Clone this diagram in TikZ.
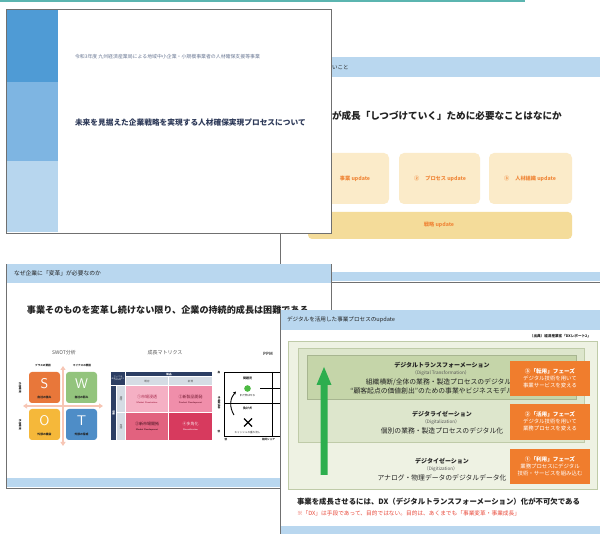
\documentclass[tikz,border=0pt]{standalone}
\usepackage{fontspec}
\newfontfamily\jp{Noto Sans CJK JP}
\usetikzlibrary{arrows.meta}
\definecolor{tealline}{HTML}{5BB5B0}
\definecolor{hdrblue}{HTML}{B9D7EF}
\definecolor{slideedge}{HTML}{707070}
\definecolor{navy}{HTML}{2E3A59}
\definecolor{subgray}{HTML}{6A7894}
\definecolor{stripeA}{HTML}{4F9BD5}
\definecolor{stripeB}{HTML}{7EB5E2}
\definecolor{stripeC}{HTML}{B7D6EE}
\definecolor{orangetxt}{HTML}{F0883A}
\definecolor{cream}{HTML}{FBEBC9}
\definecolor{sand}{HTML}{F4DC9A}
\definecolor{swotS}{HTML}{E8773A}
\definecolor{swotW}{HTML}{93C47D}
\definecolor{swotO}{HTML}{F5B83A}
\definecolor{swotT}{HTML}{4E8DC7}
\definecolor{pinkarrow}{HTML}{F7C6B5}
\definecolor{gmA}{HTML}{F5B0C4}
\definecolor{gmB}{HTML}{F08EAA}
\definecolor{gmC}{HTML}{E2627F}
\definecolor{gmD}{HTML}{D73A5E}
\definecolor{gmnavy}{HTML}{2C3E63}
\definecolor{gmgray}{HTML}{D5DCE4}
\definecolor{gmtxt}{HTML}{A82A4C}
\definecolor{greenA}{HTML}{EEF2E3}
\definecolor{greenB}{HTML}{DDE6CC}
\definecolor{greenC}{HTML}{C5D5A9}
\definecolor{greenEdge}{HTML}{BFCBA8}
\definecolor{arrowgreen}{HTML}{2DAE4E}
\definecolor{phase}{HTML}{F07D2D}
\definecolor{redtxt}{HTML}{E94B3C}
\definecolor{darktxt}{HTML}{222222}
\definecolor{midtxt}{HTML}{555555}
\newcommand\fz[1]{\fontsize{#1}{#1}\selectfont}
\tikzset{
  slidebox/.style={draw=slideedge, line width=0.9pt, fill=white},
  lbl/.style={inner sep=0pt, outer sep=0pt, font=\jp},
  roundbox/.style={fill=cream, rounded corners=5pt},
  phasebox/.style={fill=phase},
  phasetxt/.style={lbl, text=white, align=center},
  dxhead/.style={lbl, font=\jp\bfseries\fz{6}, text=darktxt},
  dxsub/.style={lbl, font=\jp\fz{4.6}, text=midtxt},
  dxbody/.style={lbl, font=\jp\fz{6.8}, text=darktxt},
}
\begin{document}
\begin{tikzpicture}[x=1pt,y=-1pt]
\useasboundingbox (0,0) rectangle (600,534);
\clip (0,0) rectangle (600,534);
\fill[white] (0,0) rectangle (600,534);
\fill[tealline] (0,0) rectangle (525,2.5);

% ---------------- slide 2 ----------------
\draw[slidebox] (280,57) rectangle (640,282);
\fill[hdrblue] (280.5,57.5) rectangle (640,77);
\fill[hdrblue] (280.5,272) rectangle (640,281.5);
\node[lbl, anchor=west, font=\jp\fz{5.5}, text=darktxt] (s2h) at (332,67) {いこと};
\node[lbl, anchor=west, font=\jp\bfseries\fz{9.6}, text=darktxt] (s2t) at (332,116) {が成長「しつづけていく」ために必要なことはなにか};
\fill[roundbox] (308,153) rectangle (389,204);
\fill[roundbox] (399,153) rectangle (480,204);
\fill[roundbox] (489,153) rectangle (572,204);
\fill[sand, rounded corners=4pt] (308,212) rectangle (572,239);
\node[lbl, font=\jp\bfseries\fz{5.2}, text=orangetxt] (u1) at (355,179) {事業 update};
\node[lbl, font=\jp\bfseries\fz{5.2}, text=orangetxt] (u2) at (440,179) {②\hspace{6pt}プロセス update};
\node[lbl, font=\jp\bfseries\fz{5.2}, text=orangetxt] (u3) at (530,179) {③\hspace{6pt}人材組織 update};
\node[lbl, font=\jp\bfseries\fz{5.2}, text=orangetxt] (u4) at (439,225) {戦略 update};

% ---------------- slide 1 ----------------
\draw[slidebox] (6.5,9.5) rectangle (331,233);
\fill[stripeA] (7,10) rectangle (58,82);
\fill[stripeB] (7,82) rectangle (58,161);
\fill[stripeC] (7,161) rectangle (58,232.5);
\node[lbl, anchor=west, font=\jp\fz{4.9}, text=subgray] (s1sub) at (75,57) {令和3年度 九州経済産業局による地域中小企業・小規模事業者の人材確保支援等事業};
\node[lbl, anchor=west, font=\jp\bfseries\fz{7.7}, text=navy] (s1t) at (75,123) {未来を見据えた企業戦略を実現する人材確保実現プロセスについて};

% ---------------- slide 3 ----------------
\draw[slidebox] (6.5,264) rectangle (331,488);
\fill[hdrblue] (7,264.5) rectangle (330.5,283);
\fill[hdrblue] (7,478) rectangle (330.5,487.5);
\node[lbl, anchor=west, font=\jp\fz{5.8}, text=darktxt] (s3h) at (14,273) {なぜ企業に「変革」が必要なのか};
\node[lbl, anchor=west, font=\jp\bfseries\fz{9.1}, text=darktxt] (s3t) at (27,310) {事業そのものを変革し続けない限り、企業の持続的成長は困難である};
\node[lbl, font=\jp\fz{5}, text=midtxt] (swotl) at (64,353) {SWOT分析};
\node[lbl, font=\jp\fz{5}, text=midtxt] (gml) at (165,353) {成長マトリクス};
\node[lbl, font=\jp\bfseries\fz{4.3}, text=midtxt] (ppml) at (268,354) {PPM};
% SWOT
\draw[pinkarrow, line width=1.6pt, {Triangle[length=4pt,width=5pt]}-{Triangle[length=4pt,width=5pt]}] (23,406) -- (103,406);
\draw[pinkarrow, line width=1.6pt, {Triangle[length=4pt,width=5pt]}-{Triangle[length=4pt,width=5pt]}] (63,366) -- (63,446);
\fill[swotS, rounded corners=3pt] (29,372) rectangle (60,403);
\fill[swotW, rounded corners=3pt] (66,372) rectangle (97,403);
\fill[swotO, rounded corners=3pt] (29,409) rectangle (60,440);
\fill[swotT, rounded corners=3pt] (66,409) rectangle (97,440);
\node[lbl, font=\fz{14}\sffamily, text=white] (sS) at (44.5,384) {S};
\node[lbl, font=\fz{14}\sffamily, text=white] (sW) at (81.5,384) {W};
\node[lbl, font=\fz{14}\sffamily, text=white] (sO) at (44.5,421) {O};
\node[lbl, font=\fz{14}\sffamily, text=white] (sT) at (81.5,421) {T};
\node[lbl, font=\jp\bfseries\fz{2.8}, text=darktxt] (sS2) at (44.5,397.5) {自社の強み};
\node[lbl, font=\jp\bfseries\fz{2.8}, text=darktxt] (sW2) at (81.5,397.5) {自社の弱み};
\node[lbl, font=\jp\bfseries\fz{2.8}, text=darktxt] (sO2) at (44.5,434.5) {外部の機会};
\node[lbl, font=\jp\bfseries\fz{2.8}, text=darktxt] (sT2) at (81.5,434.5) {外部の脅威};
\node[lbl, font=\jp\bfseries\fz{2.6}, text=darktxt] (plus) at (43,366) {プラスの要因};
\node[lbl, font=\jp\bfseries\fz{2.6}, text=darktxt] (minus) at (82,366) {マイナスの要因};
\node[lbl, font=\jp\bfseries\fz{2.6}, text=darktxt, rotate=-90] (inner) at (20,388) {内部環境};
\node[lbl, font=\jp\bfseries\fz{2.6}, text=darktxt, rotate=-90] (outer) at (20,425) {外部環境};
% growth matrix
\fill[gmnavy] (111,372) rectangle (125,385);
\fill[gmnavy] (126,372) rectangle (212,376.5);
\fill[gmgray] (126,377.5) rectangle (168,385);
\fill[gmgray] (169,377.5) rectangle (212,385);
\fill[gmnavy] (111,386) rectangle (116,440);
\fill[gmgray] (117,386) rectangle (125,412.5);
\fill[gmgray] (117,413.5) rectangle (125,440);
\fill[gmA] (126,386) rectangle (168,412.5);
\fill[gmB] (169,386) rectangle (212,412.5);
\fill[gmC] (126,413.5) rectangle (168,440);
\fill[gmD] (169,413.5) rectangle (212,440);
\node[lbl, font=\jp\fz{1.8}, text=white, align=center] (gm0) at (118,378.5) {アンゾフの\\成長マトリクス\\(Ansoff)};
\node[lbl, font=\jp\bfseries\fz{2.6}, text=white] (gmh) at (169,374.3) {製品};
\node[lbl, font=\jp\fz{2.6}, text=midtxt] (gmh1) at (147,381.3) {既存};
\node[lbl, font=\jp\fz{2.6}, text=midtxt] (gmh2) at (190.5,381.3) {新規};
\node[lbl, font=\jp\bfseries\fz{2.6}, text=white, rotate=-90] (gmv) at (113.5,413) {市場};
\node[lbl, font=\jp\fz{2.6}, text=midtxt, rotate=-90] (gmv1) at (121,399) {既存};
\node[lbl, font=\jp\fz{2.6}, text=midtxt, rotate=-90] (gmv2) at (121,427) {新規};
\node[lbl, font=\jp\fz{4}, text=gmtxt] (q1) at (147,396.5) {①市場浸透};
\node[lbl, font=\sffamily\bfseries\fz{2.3}, text=gmtxt] (q1e) at (147,402.5) {Market Penetration};
\node[lbl, font=\jp\fz{4}, text=gmtxt!70!black] (q2) at (190.5,396.5) {②新製品開発};
\node[lbl, font=\sffamily\bfseries\fz{2.3}, text=gmtxt!70!black] (q2e) at (190.5,402.5) {Product Development};
\node[lbl, font=\jp\fz{4}, text=gmtxt!40!black] (q3) at (147,424) {③新市場開拓};
\node[lbl, font=\sffamily\bfseries\fz{2.3}, text=gmtxt!40!black] (q3e) at (147,430) {Market Development};
\node[lbl, font=\jp\fz{4}, text=white!85!gmD] (q4) at (190.5,424) {④多角化};
\node[lbl, font=\sffamily\bfseries\fz{2.3}, text=white!85!gmD] (q4e) at (190.5,430) {Diversification};
% PPM
\draw[black, line width=0.7pt] (224,372) rectangle (330,436);
\draw[black, line width=0.7pt] (224,403) -- (330,403);
\draw[black, line width=0.7pt] (272,372) -- (272,436);
\fill[arrowgreen!85!yellow] (247.5,388.5) circle (3.3);
\draw[black, line width=1.1pt] (260,388.5) -- (300,388.5);
\node[lbl, font=\jp\bfseries\fz{3}, text=darktxt] (ppq) at (247.5,378) {問題児};
\node[lbl, font=\jp\fz{2.6}, text=darktxt] (ppq2) at (247.5,396) {まだ伸ばせる};
\node[lbl, font=\jp\bfseries\fz{3}, text=darktxt] (ppd) at (247.5,408) {負け犬};
\node[lbl, font=\jp\fz{2.6}, text=darktxt] (ppd2) at (247.5,433) {キャッシュの垂れ流し};
\draw[black, line width=1.1pt] (244,418.5) -- (252,426.5) (244,426.5) -- (252,418.5);
\draw[black, line width=0.9pt, -{Stealth[length=3pt,width=3pt]}] (234,415) .. controls (229,407) and (230,398) .. (236,391.5);
\node[lbl, font=\jp\bfseries\fz{2.6}, text=darktxt] (pph) at (219,373) {高};
\node[lbl, font=\jp\bfseries\fz{2.6}, text=darktxt] (ppl) at (219,432) {低};
\node[lbl, font=\jp\bfseries\fz{2.6}, text=darktxt, rotate=-90] (ppy) at (219,403) {市場成長率};
\node[lbl, font=\jp\bfseries\fz{2.6}, text=darktxt] (ppx0) at (226,439.5) {低};
\node[lbl, font=\jp\bfseries\fz{2.6}, text=darktxt, anchor=west] (ppx) at (262,439.5) {相対シェア};

% ---------------- slide 4 ----------------
\draw[slidebox] (280,310) rectangle (640,560);
\fill[hdrblue] (280.5,310.5) rectangle (640,330);
\fill[hdrblue] (280.5,526) rectangle (640,534);
\node[lbl, anchor=west, font=\jp\fz{5.6}, text=darktxt] (s4h) at (287,319.5) {デジタルを活用した事業プロセスのupdate};
\node[lbl, anchor=east, font=\jp\bfseries\fz{3.6}, text=darktxt] (src) at (591,336) {（出典）経済産業省「DXレポート2」};
\draw[fill=greenA, draw=greenEdge, line width=0.7pt] (288,341) rectangle (597,489);
\draw[fill=greenB, draw=greenEdge, line width=0.7pt] (298,348) rectangle (584,442);
\draw[fill=greenC, draw=greenC!85!black, line width=0.7pt] (307,355) rectangle (576,399);
\fill[arrowgreen] (320.5,475) -- (327.5,475) -- (327.5,385) -- (331.5,385) -- (324,367) -- (316.5,385) -- (320.5,385) -- cycle;
\node[dxhead] (dx3) at (442,365) {デジタルトランスフォーメーション};
\node[dxsub] (dx3e) at (441,373.5) {（Digital Transformation）};
\node[dxbody] (dx3a) at (442,382) {組織横断/全体の業務・製造プロセスのデジタル化};
\node[dxbody] (dx3b) at (442,391) {“顧客起点の価値創出”のための事業やビジネスモデルの変革};
\node[dxhead] (dx2) at (442,414) {デジタライゼーション};
\node[dxsub] (dx2e) at (441,422.5) {（Digitalization）};
\node[dxbody] (dx2a) at (442,431) {個別の業務・製造プロセスのデジタル化};
\node[dxhead] (dx1) at (442,461) {デジタイゼーション};
\node[dxsub] (dx1e) at (441,469.5) {（Digitization）};
\node[dxbody] (dx1a) at (442,477.5) {アナログ・物理データのデジタルデータ化};
\fill[phasebox] (510,361) rectangle (590,396);
\fill[phasebox] (510,404) rectangle (590,440);
\fill[phasebox] (510,449) rectangle (590,484);
\node[phasetxt, font=\jp\bfseries\fz{5.6}] (p3a) at (550,371) {③「転用」フェーズ};
\node[phasetxt, font=\jp\fz{5.4}] (p3b) at (550,378.3) {デジタル技術を用いて};
\node[phasetxt, font=\jp\fz{5.4}] (p3c) at (550,385.6) {事業サービスを変える};
\node[phasetxt, font=\jp\bfseries\fz{5.6}] (p2a) at (550,414) {②「活用」フェーズ};
\node[phasetxt, font=\jp\fz{5.4}] (p2b) at (550,421.3) {デジタル技術を用いて};
\node[phasetxt, font=\jp\fz{5.4}] (p2c) at (550,428.6) {業務プロセスを変える};
\node[phasetxt, font=\jp\bfseries\fz{5.6}] (p1a) at (550,459) {①「利用」フェーズ};
\node[phasetxt, font=\jp\fz{5.4}] (p1b) at (550,466.3) {業務プロセスにデジタル};
\node[phasetxt, font=\jp\fz{5.4}] (p1c) at (550,473.6) {技術・サービスを組み込む};
\node[lbl, anchor=west, font=\jp\bfseries\fz{7.4}, text=darktxt] (s4t) at (297,502) {事業を成長させるには、DX（デジタルトランスフォーメーション）化が不可欠である};
\node[lbl, anchor=west, font=\jp\fz{5.7}, text=redtxt] (s4r) at (297,513) {※「DX」は手段であって、目的ではない。目的は、あくまでも「事業変革・事業成長」};
\end{tikzpicture}
\end{document}
